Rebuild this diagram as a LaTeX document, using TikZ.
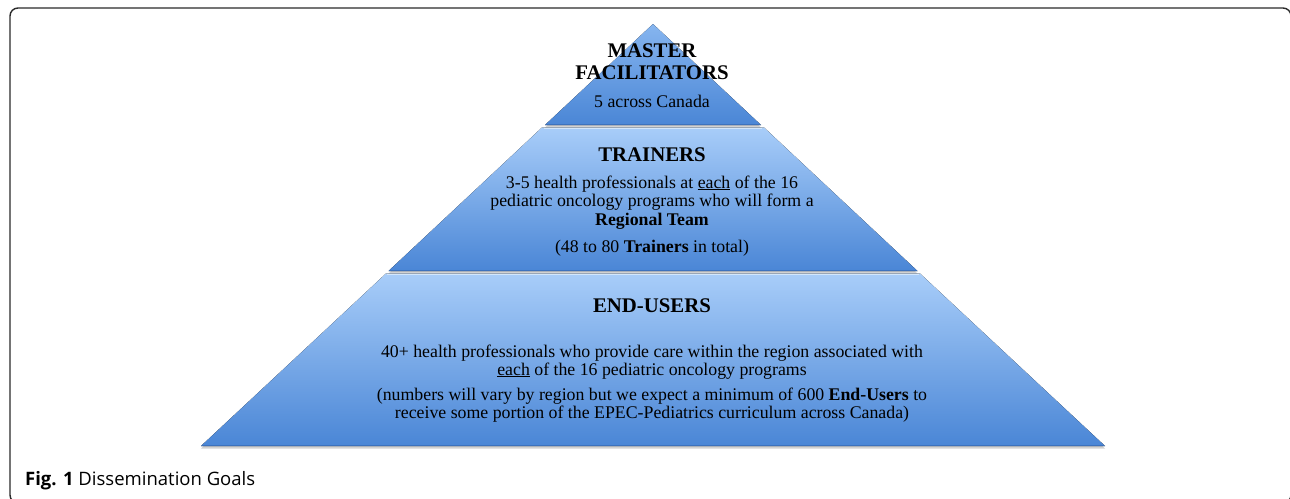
\documentclass[tikz,border=0pt]{standalone}
\usepackage{fontspec}
\setmainfont{Liberation Serif}
\newfontfamily\capfont{Open Sans}
\usetikzlibrary{shadows}

\definecolor{tiertop}{HTML}{A8CDF9}
\definecolor{tierbot}{HTML}{4A86D6}
\definecolor{apextop}{HTML}{86B5EF}
\definecolor{tieredge}{HTML}{3D72BD}
\definecolor{tierlight}{HTML}{D2E7FD}
\definecolor{frameline}{HTML}{2B2B2B}

\tikzset{
  tier/.style={top color=tiertop, bottom color=tierbot,
    drop shadow={opacity=0.35, shadow xshift=0pt, shadow yshift=-2.5pt}},
  tiertitle/.style={font=\fontsize{20.8}{22}\selectfont\bfseries, anchor=base, inner sep=0pt},
  textline/.style={font=\fontsize{17.8}{18}\selectfont, anchor=base, inner sep=0pt},
}

\begin{document}
\begin{tikzpicture}[x=1pt,y=-1pt]
\useasboundingbox (0,0) rectangle (1290,498);
\fill[white] (0,0) rectangle (1290,498);
\draw[frameline, line width=1.4pt, rounded corners=8pt] (10,8) rectangle (1291,503);

% tiers
\fill[tier, top color=apextop] (653,24) -- (761,125) -- (545,125) -- cycle;
\fill[tier] (542,127.5) -- (764,127.5) -- (917.5,271) -- (388.5,271) -- cycle;
\fill[tier] (386,273.5) -- (920,273.5) -- (1105,446) -- (201,446) -- cycle;
\draw[tieredge, line width=1.2pt] (546,124.5) -- (760,124.5);
\draw[tieredge, line width=1.2pt] (389,270.5) -- (917,270.5);
\draw[tieredge, line width=1.2pt] (202,445.5) -- (1104,445.5);
\draw[tierlight, line width=1.5pt] (544,128.5) -- (762,128.5);
\draw[tierlight, line width=1.5pt] (387,274.5) -- (919,274.5);

% master facilitators
\node[tiertitle] (mastera) at (652,57) {MASTER};
\node[tiertitle] (masterb) at (652,79) {FACILITATORS};
\node[textline] (mastertxt) at (652,107) {5 across Canada};

% trainers
\node[tiertitle] (trainers) at (652,161) {TRAINERS};
\node[textline] (trainera) at (652,188) {3-5 health professionals at \underline{each} of the 16};
\node[textline] (trainerb) at (652,206) {pediatric oncology programs who will form a};
\node[textline] (trainerc) at (652,225) {\textbf{Regional Team}};
\node[textline] (trainerd) at (652,252) {(48 to 80 \textbf{Trainers} in total)};

% end-users
\node[tiertitle] (endusers) at (652,312) {END-USERS};
\node[textline] (enda) at (652,357) {40+ health professionals who provide care within the region associated with};
\node[textline] (endb) at (652,375) {\underline{each} of the 16 pediatric oncology programs};
\node[textline] (endc) at (652,400) {(numbers will vary by region but we expect a minimum of 600 \textbf{End-Users} to};
\node[textline] (endd) at (652,418) {receive some portion of the EPEC-Pediatrics curriculum across Canada)};

\node[anchor=base west, inner sep=0pt, font=\capfont\fontsize{18.5}{20}\selectfont] (caption) at (25,485) {\textbf{Fig. 1} Dissemination Goals};
\end{tikzpicture}
\end{document}
